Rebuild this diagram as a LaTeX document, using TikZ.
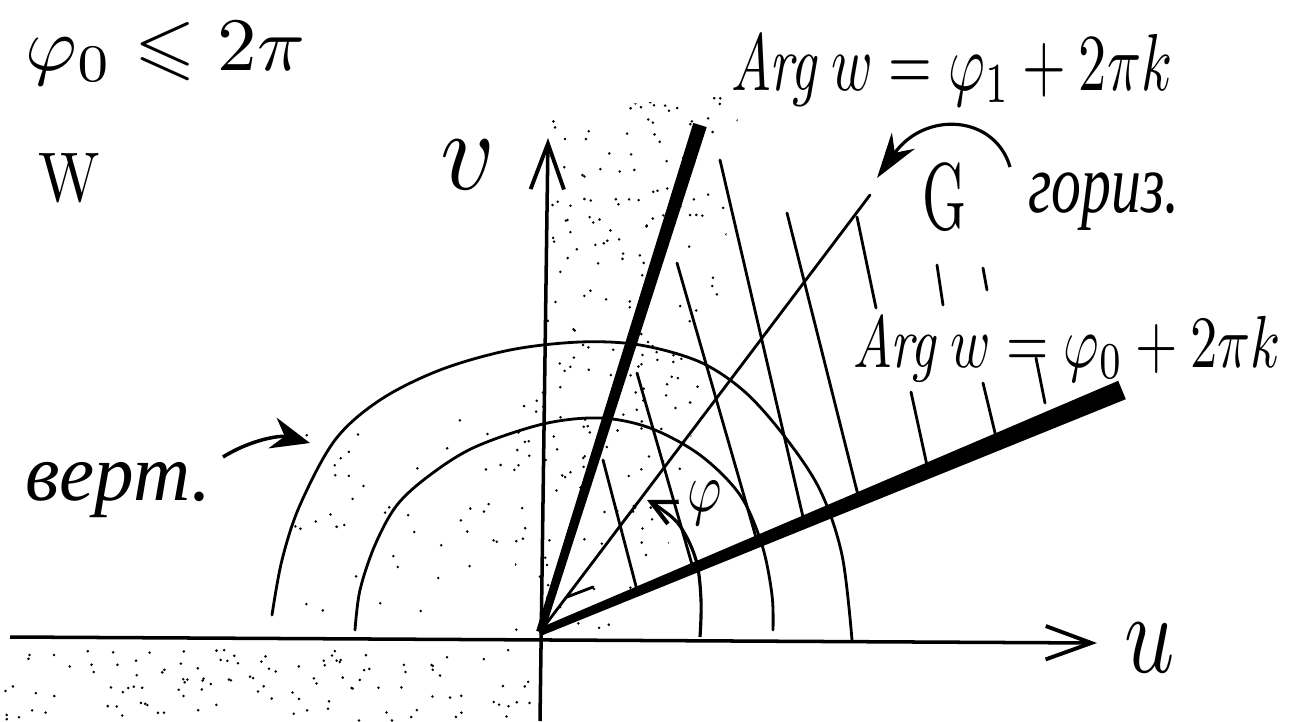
\documentclass[tikz,border=0pt]{standalone}
\usepackage{amssymb}
\usepackage{graphicx}
\usepackage{fontspec}
\newfontfamily\cyr{Liberation Serif}
\usetikzlibrary{arrows.meta,calc}
\tikzset{
  thinl/.style={line width=1.6pt, line cap=round},
  axisline/.style={line width=2pt, -{Straight Barb[length=26pt,width=19pt,line width=2.2pt]}},
  bararrow/.style={line width=1.8pt, -{Straight Barb[length=14pt,width=14pt,line width=2.4pt]}},
  lbl/.style={inner sep=0pt},
}
\begin{document}
\begin{tikzpicture}[x=0.02cm,y=-0.02cm]
\useasboundingbox (0,0) rectangle (1291,721);
% stipple
\pgfmathsetseed{11}
\begin{scope}
\clip (515,632) -- (515,400) -- (546,300) -- (552,110) -- (740,95) -- (720,300) -- (650,632) -- cycle;
\foreach \i in {1,...,300}{
  \pgfmathsetmacro{\xx}{515+225*rnd}\pgfmathsetmacro{\yy}{95+537*rnd}
  \fill (\xx,\yy) circle (0.8pt);}
\end{scope}
\foreach \i in {1,...,45}{
  \pgfmathsetmacro{\xx}{290+230*rnd}\pgfmathsetmacro{\yy}{420+205*rnd}
  \fill (\xx,\yy) circle (0.8pt);}
\foreach \i in {1,...,120}{
  \pgfmathsetmacro{\xx}{0+535*rnd}\pgfmathsetmacro{\yy}{650+71*rnd}
  \fill (\xx,\yy) circle (0.8pt);}
% key points
\coordinate (O) at (540,632);
\coordinate (vB) at (540,721);
\coordinate (vT) at (548,138);
\coordinate (uL) at (10,637);
\coordinate (uR) at (1097,643);
\coordinate (P1) at (700,125);
\coordinate (P0) at (1122,390);
\coordinate (D) at (870,195);
% axes
\draw[axisline] (uL) -- (uR);
\draw[axisline] (vB) -- (vT);
% thick rays (tapered)
\fill ($(O)+(1.5,3.6)$) -- ($(P0)+(3.8,9.2)$) -- ($(P0)+(-3.8,-9.2)$) -- ($(O)+(-1.5,-3.6)$) -- cycle;
\fill ($(O)+(3.8,1.2)$) -- ($(P1)+(6.7,2.1)$) -- ($(P1)+(-6.7,-2.1)$) -- ($(O)+(-3.8,-1.2)$) -- cycle;
% thin diagonal
\draw[thinl] (O) -- (D);
\draw[thinl] (567,597) -- (593,587);
% hatching
\draw[thinl] (637,373) -- (693,568);
\draw[thinl] (603,460) -- (637,590);
\draw[thinl] (677,263) -- (757,541);
\draw[thinl] (720,160) -- (803,517);
\draw[thinl] (787,213) -- (859,499);
\draw[thinl] (857,217) -- (876,308);
\draw[thinl] (911,392) -- (928,470);
\draw[thinl] (937,265) -- (943,305);
\draw[thinl] (983,268) -- (987,290);
\draw[thinl] (983,383) -- (996,437);
\draw[thinl] (1036,358) -- (1045,403);
% arcs
\draw[thinl] plot[smooth, tension=0.55] coordinates {(272,615) (282,560) (300,505) (335,440) (380,400) (440,370) (510,350) (580,342) (640,345) (700,362) (745,392) (785,437) (820,490) (842,555) (852,640)};
\draw[thinl] plot[smooth, tension=0.55] coordinates {(355,630) (360,590) (375,545) (397,505) (430,475) (475,447) (543,424) (600,418) (650,428) (700,455) (740,495) (762,545) (772,595) (773,630)};
\draw[bararrow] plot[smooth, tension=0.6] coordinates {(700,637) (701,600) (696,560) (680,526) (660,508) (647,500)};
% curved arrows
\coordinate (gS) at (1010,167);
\coordinate (gE) at (877,178);
\draw[line width=1.8pt, -{Stealth[length=26pt,width=16pt]}] (gS) .. controls (995,115) and (925,110) .. (gE);
\coordinate (bS) at (223,457);
\coordinate (bE) at (310,443);
\draw[line width=2pt, -{Stealth[length=22pt,width=18pt]}] (bS) .. controls (250,440) and (280,435) .. (bE);
% labels
\node[lbl, anchor=base west] (a1) at (730,90) {\scalebox{3.2}[4.6]{$\textit{Arg}\;w=\varphi_1+2\pi k$}};
\node[lbl, anchor=base west] (a0) at (852,367) {\scalebox{3.1}[4.2]{$\textit{Arg}\;w=\varphi_0+2\pi k$}};
\node[lbl, anchor=base west] (top) at (25,70) {\scalebox{4.5}[4.3]{$\varphi_0\leqslant 2\pi$}};
\node[lbl] (W) at (69,178) {\scalebox{3.4}[4]{W}};
\node[lbl] (G) at (945,197) {\scalebox{3.2}[5.4]{G}};
\node[lbl, anchor=base west] (gor) at (1028,212) {\scalebox{3.4}[4.8]{\cyr\itshape гориз.}};
\node[lbl, anchor=base west] (vert) at (25,500) {\scalebox{4.5}[4.6]{\cyr\itshape верт.}};
\node[lbl] (vlab) at (468,165) {\scalebox{6}[6.5]{$v$}};
\node[lbl] (ulab) at (1150,648) {\scalebox{5}[6.5]{$u$}};
\node[lbl] (phl) at (705,503) {\scalebox{3}[4]{$\varphi$}};
\end{tikzpicture}
\end{document}
